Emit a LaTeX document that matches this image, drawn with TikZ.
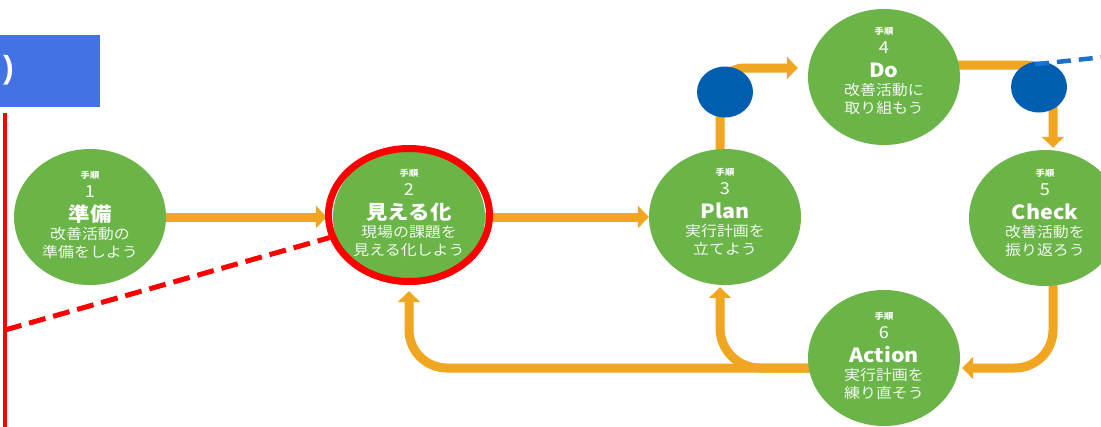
\documentclass[tikz,border=0pt]{standalone}
\usepackage{fontspec}
\setmainfont{Noto Sans CJK JP}[FakeStretch=1.1]
\newfontfamily\parenfont{Liberation Sans}
\usetikzlibrary{arrows.meta,calc,shapes.geometric}
\definecolor{stepgreen}{RGB}{106,180,72}
\definecolor{floworange}{RGB}{240,166,32}
\definecolor{dotblue}{RGB}{0,94,176}
\definecolor{hdrblue}{RGB}{66,114,228}
\definecolor{dashblue}{RGB}{26,115,200}
\definecolor{markred}{RGB}{255,0,0}
\pgfdeclarelayer{bgl}
\pgfdeclarelayer{connl}
\pgfsetlayers{bgl,connl,main}
\tikzset{
  stepcirc/.style={ellipse, fill=stepgreen, minimum width=152pt, minimum height=136pt, inner sep=0pt},
  hdtext/.style={text=white, inner sep=0pt, font=\fontsize{8.5}{9}\selectfont\bfseries},
  numtext/.style={text=white, inner sep=0pt, font=\fontsize{16.5}{17}\selectfont},
  ttltext/.style={text=white, inner sep=0pt, font=\fontsize{19.5}{20}\selectfont\bfseries},
  subtext/.style={text=white!92!stepgreen, inner sep=0pt, font=\fontsize{14.5}{15}\selectfont},
  flow/.style={draw=floworange, line width=9pt, -{Triangle[width=22pt,length=11pt]}},
  bluedot/.style={ellipse, fill=dotblue, minimum width=56pt, minimum height=51pt, inner sep=0pt},
  redring/.style={ellipse, draw=markred, line width=7pt, minimum width=161pt, minimum height=133pt, inner sep=0pt},
  reddash/.style={draw=markred, line width=5pt, dash pattern=on 17pt off 8pt},
  bluedash/.style={draw=dashblue, line width=4.5pt, dash pattern=on 14pt off 8pt},
  hdrbox/.style={rectangle, fill=hdrblue, minimum width=100pt, minimum height=72pt, inner sep=0pt},
}
\newcommand\steplabels[6]{%
  \node[hdtext]  (#1-h) at ($(#1)+(0,-42+#6)$) {手順};
  \node[numtext] (#1-n) at ($(#1)+(0,-25+#6)$) {#2};
  \node[ttltext] (#1-t) at ($(#1)+(0,-3+#6)$) {#3};
  \node[subtext] (#1-a) at ($(#1)+(0,17+#6)$) {#4};
  \node[subtext] (#1-b) at ($(#1)+(0,35+#6)$) {#5};
}
\begin{document}
\begin{tikzpicture}[x=1pt,y=-1pt]
\begin{pgfonlayer}{bgl}
  \fill[white] (0,0) rectangle (1101,426);
\end{pgfonlayer}
\useasboundingbox (0,0) rectangle (1101,426);

% steps
\node[stepcirc] (n1) at (90,217) {};
\node[stepcirc] (n2) at (409,217) {};
\node[stepcirc] (n3) at (725,217) {};
\node[stepcirc] (n4) at (884,77) {};
\node[stepcirc] (n5) at (1045,218) {};
\node[stepcirc] (n6) at (884,358) {};

\steplabels{n1}{1}{準備}{改善活動の}{準備をしよう}{0}
\steplabels{n2}{2}{見える化}{現場の課題を}{見える化しよう}{-2}
\steplabels{n3}{3}{Plan}{実行計画を}{立てよう}{-3}
\steplabels{n4}{4}{Do}{改善活動に}{取り組もう}{-4}
\steplabels{n5}{5}{Check}{改善活動を}{振り返ろう}{-3}
\steplabels{n6}{6}{Action}{実行計画を}{練り直そう}{0}

% connectors
\begin{pgfonlayer}{connl}
  \draw[flow, shorten >=6pt] (n1) -- (n2.west);
  \draw[flow] (n2) -- (n3.west);
  \draw[flow, rounded corners=24pt, shorten >=10pt] ([xshift=-5pt]n3.center) |- ($(n4.west)+(0,-9)$);
  \draw[flow, rounded corners=26pt, shorten >=2pt] ($(n4.center)+(0,-12)$) -| ($(n5.north)+(8,0)$);
  \draw[flow, rounded corners=38pt, shorten >=2pt] ($(n5.center)+(8,0)$) |- ($(n6.east)+(0,10)$);
  \draw[flow, rounded corners=38pt, shorten >=6pt] ($(n6.center)+(0,10)$) -| (n2.south);
  \draw[flow, rounded corners=40pt, shorten >=2pt] ($(n6.center)+(0,10)$) -| ($(n3.south)+(-5,0)$);
\end{pgfonlayer}

% highlight ring
\node[redring] (r2) at (409,215) {};

% blue dots
\node[bluedot] (d1) at (725,92) {};
\node[bluedot] (d2) at (1039,87) {};
\coordinate (bdend) at (1104,57);
\draw[bluedash] ($(d2.north)+(-4,3)$) -- (bdend);

% left frame and header
\draw[markred, line width=4pt] (5,113) -- (5,430);
\coordinate (rc) at (5,330);
\draw[reddash] (rc) -- (r2);
\node[hdrbox, anchor=north west] (hdr) at (0,35) {};
\node[text=white, inner sep=0pt, anchor=east, font=\parenfont\bfseries\fontsize{32}{32}\selectfont] (paren) at (14,70) {)};
\end{tikzpicture}
\end{document}
